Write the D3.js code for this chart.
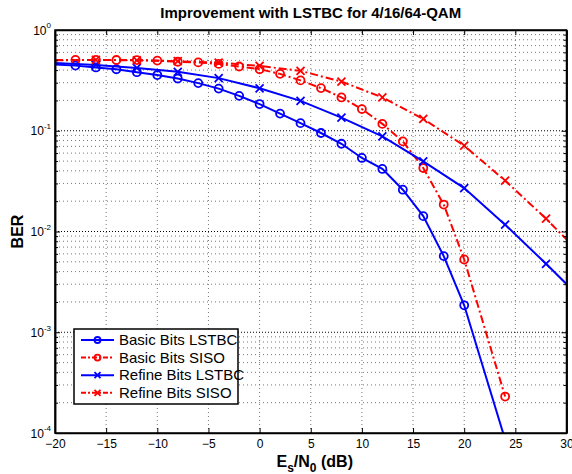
<!DOCTYPE html>
<html>
<head>
<meta charset="utf-8">
<script src="https://cdn.jsdelivr.net/npm/d3@7"></script>
<style>
  body { margin: 0; background: #fff; }
  svg { font-family: "Liberation Sans", Arial, Helvetica, sans-serif; }
</style>
</head>
<body>
<div id="chart"></div>
<script>
// Chart size
const width = 572;
const height = 474;
const margin = {left: 55, right: 5.5, top: 30, bottom: 41};

// Data
const snrBasic = [-20, -18, -16, -14, -12, -10, -8, -6, -4, -2, 0, 2, 4, 6, 8, 10, 12, 14, 16, 18, 20, 24];
const basicLstbc = [0.455, 0.443, 0.425, 0.408, 0.381, 0.357, 0.330, 0.297, 0.262, 0.222, 0.184, 0.148,
                    0.119, 0.095, 0.0743, 0.0537, 0.0418, 0.026, 0.0142, 0.0057, 0.00185, 0.000086];
const basicSiso = [0.505, 0.505, 0.505, 0.504, 0.503, 0.497, 0.484, 0.477, 0.461, 0.434, 0.408, 0.367,
                   0.316, 0.265, 0.214, 0.164, 0.117, 0.0784, 0.0427, 0.0185, 0.00528, 0.00023];
const snrRefine = [-20, -16, -12, -8, -4, 0, 4, 8, 12, 16, 20, 24, 28, 32];
const refineLstbc = [0.47, 0.45, 0.42, 0.385, 0.333, 0.264, 0.198, 0.135, 0.0879, 0.0497, 0.027, 0.0117, 0.00478, 0.0019];
const refineSiso = [0.50, 0.505, 0.50, 0.49, 0.475, 0.44, 0.393, 0.308, 0.214, 0.131, 0.071, 0.032, 0.0134, 0.0052];

const xTicks = [-20, -15, -10, -5, 0, 5, 10, 15, 20, 25, 30];
const yTicks = [1e-4, 1e-3, 1e-2, 1e-1, 1];
const yExponents = ["-4", "-3", "-2", "-1", "0"];
const legendLabels = ["Basic Bits LSTBC", "Basic Bits SISO", "Refine Bits LSTBC", "Refine Bits SISO"];

const series = [
  {x: snrBasic, y: basicLstbc, color: "#0000ff", dash: null, marker: "o"},
  {x: snrBasic, y: basicSiso, color: "#ff0000", dash: "8,3,2,3", marker: "o"},
  {x: snrRefine, y: refineLstbc, color: "#0000ff", dash: null, marker: "x"},
  {x: snrRefine, y: refineSiso, color: "#ff0000", dash: "8,3,2,3", marker: "x"}
];

const x = d3.scaleLinear().domain([-20, 30]).range([margin.left, width - margin.right]);
const y = d3.scaleLog().domain([1e-4, 1]).range([height - margin.bottom, margin.top]);

// minor y ticks 2..9 per decade
let yMinor = [];
for (let e = -4; e < 0; e++) {
  for (let m = 2; m <= 9; m++) yMinor.push(m * Math.pow(10, e));
}

let svg = d3.select("#chart").append("svg")
    .attr("width", width)
    .attr("height", height);

const x0 = x.range()[0], x1 = x.range()[1];
const y0 = y.range()[0], y1 = y.range()[1];

// grid
let grid = svg.append("g");
grid.selectAll(".gx")
    .data(xTicks.slice(1, -1))
    .enter().append("line")
    .attr("x1", d => x(d)).attr("x2", d => x(d))
    .attr("y1", y0).attr("y2", y1)
    .attr("stroke", "#777").attr("stroke-width", 1)
    .attr("stroke-dasharray", "1,3");
grid.selectAll(".gy")
    .data(yMinor)
    .enter().append("line")
    .attr("x1", x0).attr("x2", x1)
    .attr("y1", d => y(d)).attr("y2", d => y(d))
    .attr("stroke", "#777").attr("stroke-width", 1)
    .attr("stroke-dasharray", "1,3");
grid.selectAll(".gyM")
    .data(yTicks.slice(1, -1))
    .enter().append("line")
    .attr("x1", x0).attr("x2", x1)
    .attr("y1", d => y(d)).attr("y2", d => y(d))
    .attr("stroke", "#000").attr("stroke-width", 1)
    .attr("stroke-dasharray", "1,2");

// clip for the data
svg.append("clipPath").attr("id", "plotclip")
  .append("rect")
    .attr("x", x0).attr("y", y1)
    .attr("width", x1 - x0).attr("height", y0 - y1);

let plot = svg.append("g").attr("clip-path", "url(#plotclip)");

let line = d3.line()
    .x(d => x(d[0]))
    .y(d => y(d[1]));

series.forEach(function(s) {
  let pts = s.x.map((v, i) => [v, s.y[i]]);
  plot.append("path")
      .datum(pts)
      .attr("d", line)
      .attr("fill", "none")
      .attr("stroke", s.color)
      .attr("stroke-width", 2)
      .attr("stroke-dasharray", s.dash);
  // markers (the first point sits on the axis and shows no marker)
  let mk = plot.selectAll(null)
      .data(pts.filter(p => p[0] > -20))
      .enter().append("g")
      .attr("transform", d => "translate(" + x(d[0]) + "," + y(d[1]) + ")");
  if (s.marker === "o") {
    mk.append("circle").attr("r", 4)
      .attr("fill", "none").attr("stroke", s.color).attr("stroke-width", 1.8);
  } else {
    mk.append("path").attr("d", "M-4,-4L4,4M-4,4L4,-4")
      .attr("fill", "none").attr("stroke", s.color).attr("stroke-width", 1.8);
  }
});

// axes
let xAxis = svg.append("g")
    .attr("transform", "translate(0," + y0 + ")")
    .call(d3.axisBottom(x).tickValues(xTicks).tickSizeInner(-5).tickSizeOuter(0).tickPadding(6));
xAxis.selectAll("text").attr("font-size", 12).attr("fill", "#000");

svg.append("g")
    .attr("transform", "translate(0," + y1 + ")")
    .call(d3.axisTop(x).tickValues(xTicks).tickSizeInner(-5).tickSizeOuter(0).tickFormat(""));

let yAxis = svg.append("g")
    .attr("transform", "translate(" + x0 + ",0)")
    .call(d3.axisLeft(y).tickValues(yTicks).tickSizeInner(-5).tickSizeOuter(0).tickPadding(4).tickFormat(""));

yAxis.selectAll(".tick text").each(function(d, i) {
  let t = d3.select(this)
      .attr("font-size", 12).attr("fill", "#000")
      .attr("dy", "0.35em");
  t.append("tspan").text("10");
  t.append("tspan").text(yExponents[i]).attr("font-size", 8).attr("dy", "-0.8em");
});

svg.append("g")
    .attr("transform", "translate(" + x0 + ",0)")
    .call(d3.axisLeft(y).tickValues(yMinor).tickSizeInner(-3).tickSizeOuter(0).tickFormat(""));

svg.append("g")
    .attr("transform", "translate(" + x1 + ",0)")
    .call(d3.axisRight(y).tickValues(yTicks).tickSizeInner(-5).tickSizeOuter(0).tickFormat(""));
svg.append("g")
    .attr("transform", "translate(" + x1 + ",0)")
    .call(d3.axisRight(y).tickValues(yMinor).tickSizeInner(-3).tickSizeOuter(0).tickFormat(""));

svg.selectAll(".domain").attr("stroke", "#000").attr("stroke-width", 1.5);
svg.selectAll(".tick line").attr("stroke", "#000");

// box
svg.append("rect")
    .attr("x", x0).attr("y", y1)
    .attr("width", x1 - x0).attr("height", y0 - y1)
    .attr("fill", "none").attr("stroke", "#000").attr("stroke-width", 1.5);

// title
svg.append("text")
    .attr("x", (x0 + x1) / 2).attr("y", 18)
    .attr("text-anchor", "middle")
    .attr("font-size", 15).attr("font-weight", "bold")
    .text("Improvement with LSTBC for 4/16/64-QAM");

// x label
let xl = svg.append("text")
    .attr("x", (x0 + x1) / 2 + 4).attr("y", 467)
    .attr("text-anchor", "middle")
    .attr("font-size", 16).attr("font-weight", "bold");
xl.append("tspan").text("E");
xl.append("tspan").text("s").attr("font-size", 12).attr("dy", 5);
xl.append("tspan").text("/N").attr("dy", -5);
xl.append("tspan").text("0").attr("font-size", 12).attr("dy", 5);
xl.append("tspan").text(" (dB)").attr("dy", -5);

// y label
svg.append("text")
    .attr("transform", "translate(23," + ((y0 + y1) / 2) + ") rotate(-90)")
    .attr("text-anchor", "middle")
    .attr("font-size", 16).attr("font-weight", "bold")
    .text("BER");

// legend
let lg = svg.append("g").attr("transform", "translate(74,329)");
lg.append("rect")
    .attr("width", 164).attr("height", 75)
    .attr("fill", "#fff").attr("stroke", "#000").attr("stroke-width", 1.5);

let lgItem = lg.selectAll(".item")
    .data(series)
    .enter().append("g")
    .attr("transform", (d, i) => "translate(0," + (11 + i * 17.6) + ")");
lgItem.append("line")
    .attr("x1", 7).attr("x2", 40)
    .attr("stroke", d => d.color).attr("stroke-width", 2)
    .attr("stroke-dasharray", d => d.dash ? "5,2,2,2" : null);
lgItem.each(function(d) {
  let g = d3.select(this);
  if (d.marker === "o") {
    g.append("circle").attr("cx", 23.5).attr("r", 3)
      .attr("fill", "none").attr("stroke", d.color).attr("stroke-width", 1.8);
  } else {
    g.append("path").attr("d", "M20.5,-3L26.5,3M20.5,3L26.5,-3")
      .attr("fill", "none").attr("stroke", d.color).attr("stroke-width", 1.8);
  }
});
lgItem.append("text")
    .attr("x", 45).attr("dy", "0.35em")
    .attr("font-size", 15)
    .text((d, i) => legendLabels[i]);
</script>
</body>
</html>
